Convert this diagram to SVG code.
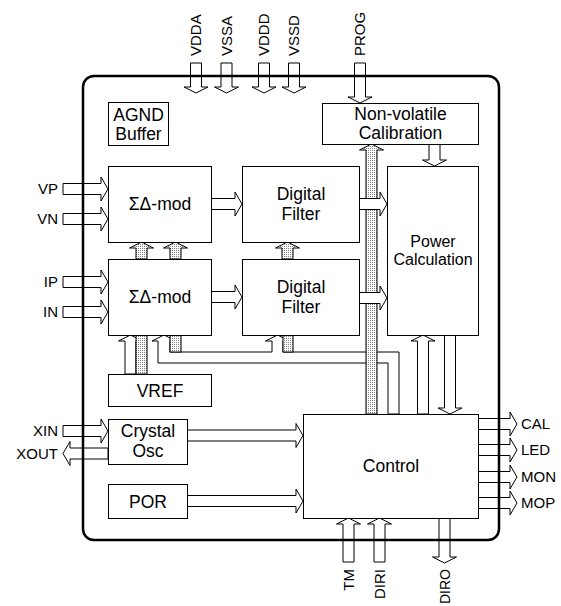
<svg xmlns="http://www.w3.org/2000/svg" width="561" height="606" viewBox="0 0 561 606">
<style>
.bx{fill:#fff;stroke:#000;stroke-width:1}
.ar{fill:#fff;stroke:#000;stroke-width:1;stroke-linejoin:miter}
.dt{fill:url(#dots);stroke:#000;stroke-width:1}
.t{font-family:"Liberation Sans",Arial,sans-serif;font-size:17.5px;fill:#000;text-anchor:middle}
.p{font-family:"Liberation Sans",Arial,sans-serif;font-size:15px;fill:#000}
.r{text-anchor:end}
</style>
<defs>
<pattern id="dots" width="2" height="2" patternUnits="userSpaceOnUse">
<rect width="2" height="2" fill="#fff"/><rect width="1" height="1" fill="#808080"/>
</pattern>
</defs>
<rect width="561" height="606" fill="#fff"/>

<g id="connectors">
<!-- left inputs -->
<polygon class="ar" points="63,183.5 101,183.5 101,177 108,189 101,201 101,194.5 63,194.5"/>
<polygon class="ar" points="63,213.5 101,213.5 101,207 108,219 101,231 101,224.5 63,224.5"/>
<polygon class="ar" points="63,276.5 101,276.5 101,270 108,282 101,294 101,287.5 63,287.5"/>
<polygon class="ar" points="63,306.5 101,306.5 101,300 108,312 101,324 101,317.5 63,317.5"/>
<polygon class="ar" points="63,425.5 101,425.5 101,419 108,431 101,443 101,436.5 63,436.5"/>
<polygon class="ar" points="108,448 70,448 70,441.5 63,453.5 70,465.5 70,459 108,459"/>
<!-- top pins -->
<polygon class="ar" points="190.5,63 201.5,63 201.5,87 208,87 196,93 184,87 190.5,87"/>
<polygon class="ar" points="221,63 232,63 232,87 238.5,87 226.5,93 214.5,87 221,87"/>
<polygon class="ar" points="258.5,63 269.5,63 269.5,87 276,87 264,93 252,87 258.5,87"/>
<polygon class="ar" points="288.5,63 299.5,63 299.5,87 306,87 294,93 282,87 288.5,87"/>
<polygon class="ar" points="354.5,63 365.5,63 365.5,97 372,97 360,103 348,97 354.5,97"/>
<!-- internal -->
<polygon class="ar" points="211,198.5 235,198.5 235,192 242,204 235,216 235,209.5 211,209.5"/>
<polygon class="ar" points="211,291.5 235,291.5 235,285 242,297 235,309 235,302.5 211,302.5"/>
<polygon class="dt" points="136,259 147,259 147,248 153.5,248 141.5,242 129.5,248 136,248"/>
<polygon class="dt" points="170,259 181,259 181,248 187.5,248 175.5,242 163.5,248 170,248"/>
<polygon class="dt" points="282,259 293,259 293,248 299.5,248 287.5,242 275.5,248 282,248"/>
<polygon class="ar" points="429,144 440,144 440,160 446.5,160 434.5,166 422.5,160 429,160"/>
<polygon class="ar" points="125,374 136,374 136,341 142.5,341 130.5,335 118.5,341 125,341"/>
<rect class="dt" x="136" y="335" width="11" height="39"/>
<polygon class="ar" points="388,414 388,363 158,363 158,341 152,341 164,335 176,341 170,341 170,352 272,352 272,341 265.5,341 277.5,335 289.5,341 283,341 283,352 399,352 399,414"/>
<rect class="dt" x="170" y="335" width="11" height="17"/>
<rect class="dt" x="283" y="335" width="10" height="17"/>
<polygon class="dt" points="366,414 377,414 377,150 383.5,150 371.5,144 359.5,150 366,150"/>
<polygon class="ar" points="359,198.5 380,198.5 380,192 387,204 380,216 380,209.5 359,209.5"/>
<polygon class="ar" points="359,292.5 380,292.5 380,286 387,298 380,310 380,303.5 359,303.5"/>
<polygon class="ar" points="417.5,414 428.5,414 428.5,341 435,341 423,335 411,341 417.5,341"/>
<polygon class="ar" points="444.5,335 455.5,335 455.5,408 462,408 450,414 438,408 444.5,408"/>
<polygon class="ar" points="187,430 296,430 296,423.5 303,435.5 296,447.5 296,441 187,441"/>
<polygon class="ar" points="187,495.5 296,495.5 296,489 303,501 296,513 296,506.5 187,506.5"/>
<!-- outputs -->
<polygon class="ar" points="478,418.5 510,418.5 510,412 517,424 510,436 510,429.5 478,429.5"/>
<polygon class="ar" points="478,444.5 510,444.5 510,438 517,450 510,462 510,455.5 478,455.5"/>
<polygon class="ar" points="478,471.5 510,471.5 510,465 517,477 510,489 510,482.5 478,482.5"/>
<polygon class="ar" points="478,497.5 510,497.5 510,491 517,503 510,515 510,508.5 478,508.5"/>
<!-- bottom pins -->
<polygon class="ar" points="343,562 354,562 354,524 360.5,524 348.5,518 336.5,524 343,524"/>
<polygon class="ar" points="374,562 385,562 385,524 391.5,524 379.5,518 367.5,524 374,524"/>
<polygon class="ar" points="439,518 450,518 450,557 456.5,557 444.5,563 432.5,557 439,557"/>
</g>

<g id="agnd"><rect class="bx" x="108.5" y="102.5" width="60" height="43"/><text class="t" x="138.5" y="121">AGND</text><text class="t" x="138.5" y="140">Buffer</text></g>
<g id="sdm1"><rect class="bx" x="108.5" y="166.5" width="103" height="76"/><text class="t" x="160" y="210">ΣΔ-mod</text></g>
<g id="sdm2"><rect class="bx" x="108.5" y="259.5" width="103" height="76"/><text class="t" x="160" y="303">ΣΔ-mod</text></g>
<g id="df1"><rect class="bx" x="242.5" y="166.5" width="117" height="76"/><text class="t" x="301" y="200">Digital</text><text class="t" x="301" y="220">Filter</text></g>
<g id="df2"><rect class="bx" x="242.5" y="259.5" width="117" height="76"/><text class="t" x="301" y="293">Digital</text><text class="t" x="301" y="313">Filter</text></g>
<g id="power"><rect class="bx" x="387.5" y="166.5" width="91" height="169"/><text class="t" style="font-size:16px" x="433" y="247">Power</text><text class="t" style="font-size:16px" x="433" y="265">Calculation</text></g>
<g id="nvcal"><rect class="bx" x="322.5" y="103.5" width="156" height="41"/><text class="t" x="400.5" y="120">Non-volatile</text><text class="t" x="400.5" y="139">Calibration</text></g>
<g id="vref"><rect class="bx" x="108.5" y="374.5" width="103" height="32"/><text class="t" x="160" y="396.5">VREF</text></g>
<g id="xosc"><rect class="bx" x="108.5" y="419.5" width="79" height="45"/><text class="t" x="148" y="437">Crystal</text><text class="t" x="148" y="457">Osc</text></g>
<g id="por"><rect class="bx" x="108.5" y="484.5" width="79" height="34"/><text class="t" x="148" y="507.5">POR</text></g>
<g id="control"><rect class="bx" x="303.5" y="414.5" width="175" height="104"/><text class="t" x="391" y="471.5">Control</text></g>

<g id="border"><rect x="83" y="76" width="416" height="464" rx="11" ry="11" fill="none" stroke="#000" stroke-width="2.5"/></g>

<g id="pins">
<text class="p r" x="58" y="194.4">VP</text>
<text class="p r" x="58" y="224.4">VN</text>
<text class="p r" x="58" y="287.4">IP</text>
<text class="p r" x="58" y="317.4">IN</text>
<text class="p r" x="58" y="436.4">XIN</text>
<text class="p r" x="58" y="458.9">XOUT</text>
<text class="p" x="521" y="429.4">CAL</text>
<text class="p" x="521" y="455.4">LED</text>
<text class="p" x="521" y="482.4">MON</text>
<text class="p" x="521" y="508.4">MOP</text>
<text class="p" transform="translate(201.4,56) rotate(-90)">VDDA</text>
<text class="p" transform="translate(231.9,56) rotate(-90)">VSSA</text>
<text class="p" transform="translate(269.4,56) rotate(-90)">VDDD</text>
<text class="p" transform="translate(299.4,56) rotate(-90)">VSSD</text>
<text class="p" transform="translate(365.4,56) rotate(-90)">PROG</text>
<text class="p r" transform="translate(353.9,569) rotate(-90)">TM</text>
<text class="p r" transform="translate(384.9,569) rotate(-90)">DIRI</text>
<text class="p r" style="font-size:14px" transform="translate(449.5,569) rotate(-90)">DIRO</text>
</g>
</svg>
